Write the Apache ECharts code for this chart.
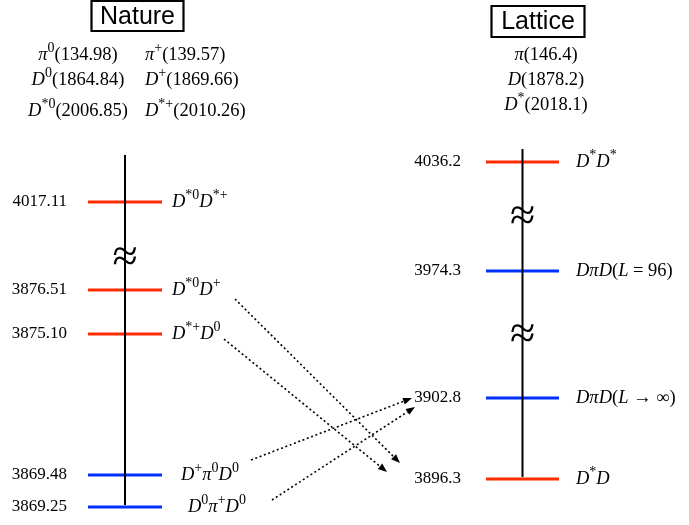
<!DOCTYPE html>
<html>
<head>
<meta charset="utf-8">
<script src="https://cdn.jsdelivr.net/npm/echarts@6/dist/echarts.min.js"></script>
<style>
  html, body { margin: 0; padding: 0; background: #fff; }
  #main { width: 689px; height: 525px; }
</style>
</head>
<body>
<div id="main"></div>
<script>
// ---- data (MeV) ----
// experimental thresholds
const natureEnergies = [3869.25, 3869.48, 3875.10, 3876.51, 4017.11];
const natureChannels = ['D^{0}π^{+}D^{0}', 'D^{+}π^{0}D^{0}', 'D^{*+}D^{0}', 'D^{*0}D^{+}', 'D^{*0}D^{*+}'];
const natureBodies = [3, 3, 2, 2, 2];
// lattice thresholds
const latticeEnergies = [3896.3, 3902.8, 3974.3, 4036.2];
const latticeChannels = ['D^{*}D', 'DπD(L → ∞)', 'DπD(L = 96)', 'D^{*}D^{*}'];
const latticeBodies = [2, 3, 3, 2];
// hadron masses
const natureMassNames = ['π^{0}', 'π^{+}', 'D^{0}', 'D^{+}', 'D^{*0}', 'D^{*+}'];
const natureMassValues = ['134.98', '139.57', '1864.84', '1869.66', '2006.85', '2010.26'];
const latticeMassNames = ['π', 'D', 'D^{*}'];
const latticeMassValues = ['146.4', '1878.2', '2018.1'];
// physical threshold -> lattice threshold
const arrowFrom = [3876.51, 3875.10, 3869.48, 3869.25];
const arrowTo = [3896.3, 3896.3, 3902.8, 3902.8];

// ---- styling ----
const SERIF = '"Liberation Serif", "DejaVu Serif", serif';
const RED = '#ff2a00';
const BLUE = '#0030ff';
const FS = 17;     // plain numbers
const MFS = 18.5;  // math text
const natureNameIndent = [16, 9, 0, 0, 0];
const arrowStartNudge = [[73, 9], [62, 5], [89, -15], [110, -7]];
const arrowEndNudge = [[-86, -16], [-99, -7], [-74, 0], [-71, 9]];

const rich = {
  it: { fontFamily: SERIF, fontStyle: 'italic', fontSize: MFS, lineHeight: 28, color: '#000' },
  rm: { fontFamily: SERIF, fontSize: MFS, lineHeight: 28, color: '#000' },
  sup: { fontFamily: SERIF, fontSize: 14, lineHeight: 15, verticalAlign: 'top', color: '#000' }
};

// turn "D^{*0}π^{+}" style notation into rich-text tokens
function toRich(s) {
  const kind = ch => (/[A-Zπ]/.test(ch) ? 'it' : 'rm');
  let out = '', i = 0;
  while (i < s.length) {
    if (s[i] === '^' && s[i + 1] === '{') {
      const j = s.indexOf('}', i);
      out += '{sup|' + s.slice(i + 2, j) + '}';
      i = j + 1;
      continue;
    }
    const k = kind(s[i]);
    let j = i;
    while (j < s.length && s[j] !== '^' && kind(s[j]) === k) j++;
    out += '{' + k + '|' + s.slice(i, j) + '}';
    i = j;
  }
  return out;
}

function levelSeries(gridIdx, energies, channels, bodies, digits, numGap, nameGap, indent) {
  return {
    type: 'custom',
    xAxisIndex: gridIdx,
    yAxisIndex: gridIdx,
    z: 2,
    data: energies.map(e => [0, e]),
    encode: { x: 0, y: 1 },
    renderItem: function (params, api) {
      const i = params.dataIndex;
      const e = api.value(1);
      const a = api.coord([-1, e]);
      const b = api.coord([1, e]);
      return {
        type: 'group',
        children: [
          {
            type: 'line',
            shape: { x1: a[0], y1: a[1], x2: b[0], y2: b[1] },
            style: { stroke: bodies[i] === 3 ? BLUE : RED, lineWidth: 3 }
          },
          {
            type: 'text',
            x: a[0] - numGap, y: a[1],
            style: { text: e.toFixed(digits), font: FS + 'px ' + SERIF, fill: '#000', align: 'right', verticalAlign: 'middle' }
          },
          {
            type: 'text',
            x: b[0] + nameGap + (indent ? indent[i] : 0), y: a[1],
            style: { text: toRich(channels[i]), rich: rich, align: 'left', verticalAlign: 'middle' }
          }
        ]
      };
    }
  };
}

function axisY(min, max, breaks) {
  return {
    type: 'value', min: min, max: max,
    breaks: breaks,
    breakArea: { show: false },
    axisLine: { show: false },
    axisTick: { show: false }, axisLabel: { show: false }, splitLine: { show: false }
  };
}
function axisX(gridIndex) {
  return { type: 'value', gridIndex: gridIndex, min: -1, max: 1, show: false };
}

const chart = echarts.init(document.getElementById('main'), null, { renderer: 'canvas' });

const natureBreaks = [
  { start: 3869.6, end: 3875.0, gap: 0.7935 },
  { start: 3875.2, end: 3876.4, gap: 0.1064 },
  { start: 3876.68, end: 4016.8, gap: 0.1527 }
];
const latticeBreaks = [
  { start: 3907.053, end: 3970.288, gap: 1.926 },
  { start: 3977.831, end: 4032.910, gap: 1.926 }
];
const natureRange = [3869.25, 4017.4478];
const latticeRange = [3896.3, 4037.243];

const option = {
  backgroundColor: '#fff',
  animation: false,
  grid: [
    { left: 88, top: 155, width: 74, height: 352 },
    { left: 486, top: 149, width: 73, height: 330 }
  ],
  xAxis: [axisX(0), axisX(1)],
  yAxis: [
    Object.assign(axisY(natureRange[0], natureRange[1], natureBreaks), { gridIndex: 0 }),
    Object.assign(axisY(latticeRange[0], latticeRange[1], latticeBreaks), { gridIndex: 1 })
  ],
  series: [
    levelSeries(0, natureEnergies, natureChannels, natureBodies, 2, 21, 10, natureNameIndent),
    levelSeries(1, latticeEnergies, latticeChannels, latticeBodies, 1, 25, 17, null)
  ]
};
chart.setOption(option);

// ---- annotations placed through the axes ----
const g = [];

// continuous energy axis line, drawn over the levels
function energyAxis(gridIndex, range) {
  const p0 = chart.convertToPixel({ gridIndex: gridIndex }, [0, range[0]]);
  const p1 = chart.convertToPixel({ gridIndex: gridIndex }, [0, range[1]]);
  g.push({ type: 'line', z: 12, shape: { x1: p0[0], y1: p0[1] - 2, x2: p1[0], y2: p1[1] },
    style: { stroke: '#000', lineWidth: 2 } });
}
energyAxis(0, natureRange);
energyAxis(1, latticeRange);

// boxed panel headings
function heading(cx, cy, w, h, text) {
  g.push({ type: 'rect', shape: { x: cx - w / 2, y: cy - h / 2, width: w, height: h },
    style: { fill: 'none', stroke: '#000', lineWidth: 2.2 }, z: 10 });
  g.push({ type: 'text', x: cx, y: cy + 1, style: { text: text, font: '25px "Liberation Sans", Arial, sans-serif',
    fill: '#000', align: 'center', verticalAlign: 'middle' }, z: 10 });
}
heading(137.5, 16, 92, 30, 'Nature');
heading(538, 21.5, 93, 31, 'Lattice');

function massText(x, y, name, value, align) {
  g.push({ type: 'text', x: x, y: y, z: 10,
    style: { text: toRich(name + '(' + value + ')'), rich: rich, align: align, verticalAlign: 'middle' } });
}
const natureRowsY = [55, 80, 111];
for (let r = 0; r < 3; r++) {
  massText(78, natureRowsY[r], natureMassNames[2 * r], natureMassValues[2 * r], 'center');
  massText(145, natureRowsY[r], natureMassNames[2 * r + 1], natureMassValues[2 * r + 1], 'left');
}
const latticeRowsY = [55, 80, 105];
for (let r = 0; r < 3; r++) {
  massText(546, latticeRowsY[r], latticeMassNames[r], latticeMassValues[r], 'center');
}

// "≈" marks at the visible axis breaks
function breakMark(gridIndex, brk) {
  const p0 = chart.convertToPixel({ gridIndex: gridIndex }, [0, brk.start]);
  const p1 = chart.convertToPixel({ gridIndex: gridIndex }, [0, brk.end]);
  g.push({ type: 'text', x: p0[0], y: (p0[1] + p1[1]) / 2 + 3, z: 20,
    style: { text: '≈', font: '46px ' + SERIF, fill: '#000', align: 'center', verticalAlign: 'middle' } });
}
breakMark(0, natureBreaks[2]);
breakMark(1, latticeBreaks[0]);
breakMark(1, latticeBreaks[1]);

// dotted arrows
for (let k = 0; k < arrowFrom.length; k++) {
  const s = chart.convertToPixel({ gridIndex: 0 }, [1, arrowFrom[k]]);
  const t = chart.convertToPixel({ gridIndex: 1 }, [-1, arrowTo[k]]);
  const x1 = s[0] + arrowStartNudge[k][0], y1 = s[1] + arrowStartNudge[k][1];
  const x2 = t[0] + arrowEndNudge[k][0], y2 = t[1] + arrowEndNudge[k][1];
  const ang = Math.atan2(y2 - y1, x2 - x1);
  const L = 9, W = 3.5;
  const bx = x2 - L * Math.cos(ang), by = y2 - L * Math.sin(ang);
  g.push({ type: 'line', z: 15, shape: { x1: x1, y1: y1, x2: bx, y2: by },
    style: { stroke: '#000', lineWidth: 1.6, lineDash: [2, 2.6] } });
  g.push({ type: 'polygon', z: 15, shape: { points: [
      [x2, y2],
      [bx + W * Math.sin(ang), by - W * Math.cos(ang)],
      [bx - W * Math.sin(ang), by + W * Math.cos(ang)]
    ] }, style: { fill: '#000' } });
}

chart.setOption({ graphic: { elements: g } });
</script>
</body>
</html>
